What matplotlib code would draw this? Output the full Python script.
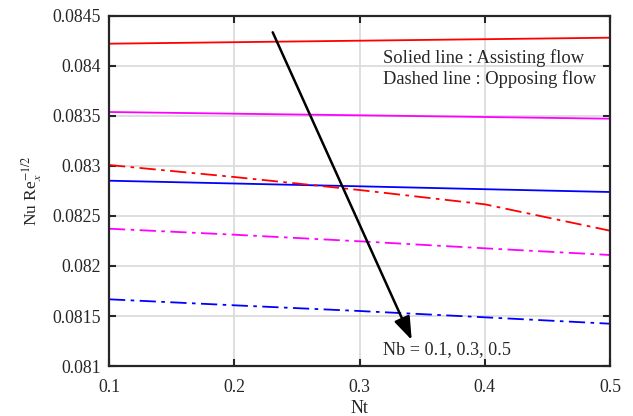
import numpy as np
import matplotlib.pyplot as plt

plt.rcParams['font.family'] = ['Liberation Serif', 'DejaVu Serif']
plt.rcParams['mathtext.fontset'] = 'stix'

nt = [0.1, 0.2, 0.3, 0.4, 0.5]

# assisting flow (solid), Nb = 0.1, 0.3, 0.5
assist_01 = [0.084223, 0.084238, 0.084253, 0.084268, 0.084283]
assist_03 = [0.083540, 0.083523, 0.083507, 0.083490, 0.083473]
assist_05 = [0.082853, 0.082825, 0.082797, 0.082768, 0.082740]

# opposing flow (dash-dot)
oppose_01 = [0.083010, 0.082890, 0.082760, 0.082617, 0.082353]
oppose_03 = [0.082373, 0.082313, 0.082247, 0.082177, 0.082110]
oppose_05 = [0.081667, 0.081607, 0.081550, 0.081487, 0.081423]

colors = ['red', 'magenta', 'blue']

fig = plt.figure(figsize=(6.33, 4.16), dpi=100)
ax = fig.add_axes([109/633, 50/416, 501/633, 350/416])

dashdot = (0, (9, 3, 2, 3))
for y, c in zip([assist_01, assist_03, assist_05], colors):
    ax.plot(nt, y, color=c, lw=1.3, ls='-')
for y, c in zip([oppose_01, oppose_03, oppose_05], colors):
    ax.plot(nt, y, color=c, lw=1.3, ls=dashdot)

ax.set_xlim(0.1, 0.5)
ax.set_ylim(0.081, 0.0845)
ax.set_xticks([0.1, 0.2, 0.3, 0.4, 0.5])
ax.set_xticklabels(['0.1', '0.2', '0.3', '0.4', '0.5'])
ax.set_yticks([0.081, 0.0815, 0.082, 0.0825, 0.083, 0.0835, 0.084, 0.0845])
ax.set_yticklabels(['0.081', '0.0815', '0.082', '0.0825', '0.083', '0.0835', '0.084', '0.0845'])
ax.grid(True, color='#d9d9d9', lw=1.2)
ax.set_axisbelow(True)
ax.tick_params(direction='in', length=5, width=1.5, top=True, right=True,
               labelsize=12.8, colors='#262626')
ax.tick_params(axis='x', pad=9)
ax.tick_params(axis='y', pad=6)
for s in ax.spines.values():
    s.set_linewidth(1.6)
    s.set_color('#262626')

ax.set_xlabel('Nt', fontsize=13, color='#262626', labelpad=3)
ax.set_ylabel(r'Nu Re$_x^{-1/2}$', fontsize=12.5, color='#262626', labelpad=6)

ax.annotate('', xy=(0.3417, 0.08126), xytext=(0.2307, 0.084337),
            arrowprops=dict(arrowstyle='-|>,head_length=1.4,head_width=0.5',
                            color='black', lw=1.8, shrinkA=0, shrinkB=0))
ax.text(0.319, 0.08116, 'Nb = 0.1, 0.3, 0.5', fontsize=13.1, color='#262626',
        va='center', ha='left')
ax.text(0.319, 0.08408, 'Solied line : Assisting flow', fontsize=13.3,
        color='#262626', va='center', ha='left')
ax.text(0.319, 0.083867, 'Dashed line : Opposing flow', fontsize=13.3,
        color='#262626', va='center', ha='left')

fig.savefig('out.png', dpi=100)
